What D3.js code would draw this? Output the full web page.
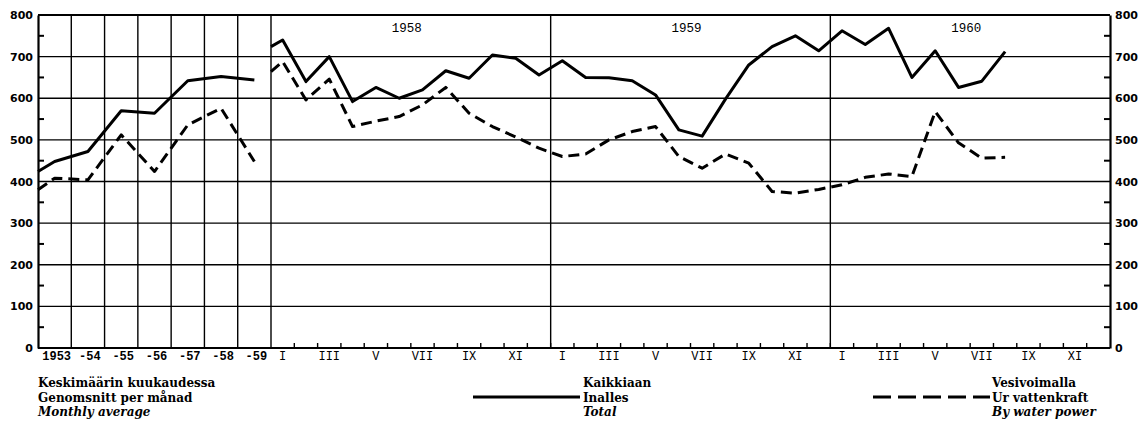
<!DOCTYPE html>
<html>
<head>
<meta charset="utf-8">
<script src="https://cdn.jsdelivr.net/npm/d3@7"></script>
<style>
  body { margin: 0; background: #fff; }
  svg { display: block; }
</style>
</head>
<body>
<div class="chart"></div>
<script>
// annual averages 1953-59
var annualLabels = ["1953", "-54", "-55", "-56", "-57", "-58", "-59"];
var annualYears = [1953, 1954, 1955, 1956, 1957, 1958, 1959];
var annualTotal = [448, 472, 570, 564, 642, 652, 644];
var annualWater = [408, 404, 512, 424, 536, 576, 448];
// value where the annual lines leave the left axis
var annualLeadTotal = 424;
var annualLeadWater = 380;

// monthly values 1958 I .. 1960 VIII
var years = ["1958", "1959", "1960"];
var monthLabels = ["I", "", "III", "", "V", "", "VII", "", "IX", "", "XI", ""];
var monthlyTotal = [740, 640, 700, 592, 626, 600, 620, 666, 648, 704, 696, 656,
                    690, 650, 649, 642, 608, 524, 509, 598, 680, 724, 750, 714,
                    762, 729, 768, 650, 714, 626, 641, 712];
var monthlyWater = [688, 596, 646, 532, 545, 556, 584, 626, 564, 532, 507, 480,
                    460, 466, 500, 520, 532, 460, 432, 466, 444, 376, 372, 381,
                    392, 410, 418, 412, 568, 493, 456, 458];
var monthlyLeadTotal = 724;
var monthlyLeadWater = 664;

var yTicks = [0, 100, 200, 300, 400, 500, 600, 700, 800];

var width = 1148, height = 432;
var margin = {left: 38, right: 1110, top: 15, bottom: 348};

var svg = d3.select(".chart").append("svg")
  .attr("width", width)
  .attr("height", height);

var y = d3.scaleLinear().domain([0, 800]).range([margin.bottom, margin.top]);
var xa = d3.scaleLinear().domain([1952.5, 1959.5]).range([margin.left, 271]);
var xm = d3.scaleLinear().domain([0, 36]).range([271, margin.right]);

// horizontal grid
svg.append("g").selectAll("line")
  .data(yTicks)
  .enter().append("line")
  .attr("x1", margin.left).attr("x2", margin.right)
  .attr("y1", d => y(d)).attr("y2", d => y(d))
  .attr("stroke", "#000")
  .attr("stroke-width", d => (d == 0 || d == 800) ? 2 : 1.4);

// vertical lines: annual columns + year boundaries
var vlines = annualYears.map(d => xa(d + 0.5)).concat([xm(12), xm(24)]);
svg.append("g").selectAll("line")
  .data(vlines)
  .enter().append("line")
  .attr("x1", d => d).attr("x2", d => d)
  .attr("y1", margin.top).attr("y2", margin.bottom)
  .attr("stroke", "#000")
  .attr("stroke-width", 1.4);

// left and right axes
svg.append("g")
  .attr("transform", "translate(" + margin.left + ",0)")
  .call(d3.axisLeft(y).tickValues(yTicks).tickSize(0).tickPadding(5))
  .call(g => g.select(".domain").attr("stroke-width", 2.2));
svg.append("g")
  .attr("transform", "translate(" + margin.right + ",0)")
  .call(d3.axisRight(y).tickValues(yTicks).tickSize(0).tickPadding(5))
  .call(g => g.select(".domain").attr("stroke-width", 2.2));
svg.selectAll(".tick text")
  .style("font-family", "DejaVu Sans")
  .style("font-size", "11px")
  .style("font-weight", "bold")
  .attr("fill", "#000");

// minor ticks at the fifties
var minor = d3.range(50, 800, 100);
svg.append("g").selectAll("line")
  .data(minor)
  .enter().append("line")
  .attr("x1", margin.left).attr("x2", margin.left + 6)
  .attr("y1", d => y(d)).attr("y2", d => y(d))
  .attr("stroke", "#000").attr("stroke-width", 2);
svg.append("g").selectAll("line")
  .data(minor)
  .enter().append("line")
  .attr("x1", margin.right).attr("x2", margin.right - 6)
  .attr("y1", d => y(d)).attr("y2", d => y(d))
  .attr("stroke", "#000").attr("stroke-width", 2);

// month ticks on the bottom axis
svg.append("g").selectAll("line")
  .data(d3.range(1, 36))
  .enter().append("line")
  .attr("x1", d => xm(d)).attr("x2", d => xm(d))
  .attr("y1", margin.bottom).attr("y2", margin.bottom - 5)
  .attr("stroke", "#000").attr("stroke-width", 1.4);

// bottom labels
svg.append("g").selectAll("text")
  .data(annualLabels)
  .enter().append("text")
  .attr("x", (d, i) => xa(annualYears[i]) + 2)
  .attr("y", margin.bottom + 12)
  .attr("text-anchor", "middle")
  .style("font-family", "Liberation Mono")
  .style("font-size", "12px")
  .style("font-weight", "bold")
  .text(d => d);

var monthTexts = [];
years.forEach(function(yr, j) {
  monthLabels.forEach(function(m, i) {
    if (m) monthTexts.push({ m: m, pos: j * 12 + i + 0.5 });
  });
});
svg.append("g").selectAll("text")
  .data(monthTexts)
  .enter().append("text")
  .attr("x", d => xm(d.pos))
  .attr("y", margin.bottom + 12)
  .attr("text-anchor", "middle")
  .style("font-family", "Liberation Mono")
  .style("font-size", "12px")
  .text(d => d.m);

// year captions
svg.append("g").selectAll("text")
  .data(years)
  .enter().append("text")
  .attr("x", (d, i) => xm(i * 12 + 6) - 4)
  .attr("y", margin.top + 17)
  .attr("text-anchor", "middle")
  .style("font-family", "Liberation Mono")
  .style("font-size", "12.5px")
  .text(d => d);

// series
var annualPos = [1952.5].concat(annualYears);
var monthPos = [0].concat(monthlyTotal.map((d, i) => i + 0.5));

function series(xs, vals, xscale) {
  return xs.map((d, i) => [xscale(d), y(vals[i])]);
}
var line = d3.line();

var lines = [
  { pts: series(annualPos, [annualLeadTotal].concat(annualTotal), xa), dash: null },
  { pts: series(annualPos, [annualLeadWater].concat(annualWater), xa), dash: "11,6" },
  { pts: series(monthPos, [monthlyLeadTotal].concat(monthlyTotal), xm), dash: null },
  { pts: series(monthPos, [monthlyLeadWater].concat(monthlyWater), xm), dash: "11,6" }
];
svg.append("g").selectAll("path")
  .data(lines)
  .enter().append("path")
  .attr("d", d => line(d.pts))
  .attr("fill", "none")
  .attr("stroke", "#000")
  .attr("stroke-width", 3)
  .attr("stroke-linejoin", "round")
  .attr("stroke-dasharray", d => d.dash);

// legend
var legend = [
  { x: 38, rows: ["Keskimäärin kuukaudessa", "Genomsnitt per månad", "Monthly average"] },
  { x: 583, rows: ["Kaikkiaan", "Inalles", "Total"] },
  { x: 992, rows: ["Vesivoimalla", "Ur vattenkraft", "By water power"] }
];
legend.forEach(function(l) {
  svg.append("g").selectAll("text")
    .data(l.rows)
    .enter().append("text")
    .attr("x", l.x)
    .attr("y", (d, i) => 387 + i * 14.5)
    .style("font-family", "DejaVu Serif")
    .style("font-size", "12px")
    .style("font-weight", "bold")
    .style("font-style", (d, i) => i == 2 ? "italic" : "normal")
    .text(d => d);
});
svg.append("line")
  .attr("x1", 473).attr("x2", 580)
  .attr("y1", 397).attr("y2", 397)
  .attr("stroke", "#000").attr("stroke-width", 3);
svg.append("line")
  .attr("x1", 873).attr("x2", 990)
  .attr("y1", 397).attr("y2", 397)
  .attr("stroke", "#000").attr("stroke-width", 3)
  .attr("stroke-dasharray", "18,7");
</script>
</body>
</html>
